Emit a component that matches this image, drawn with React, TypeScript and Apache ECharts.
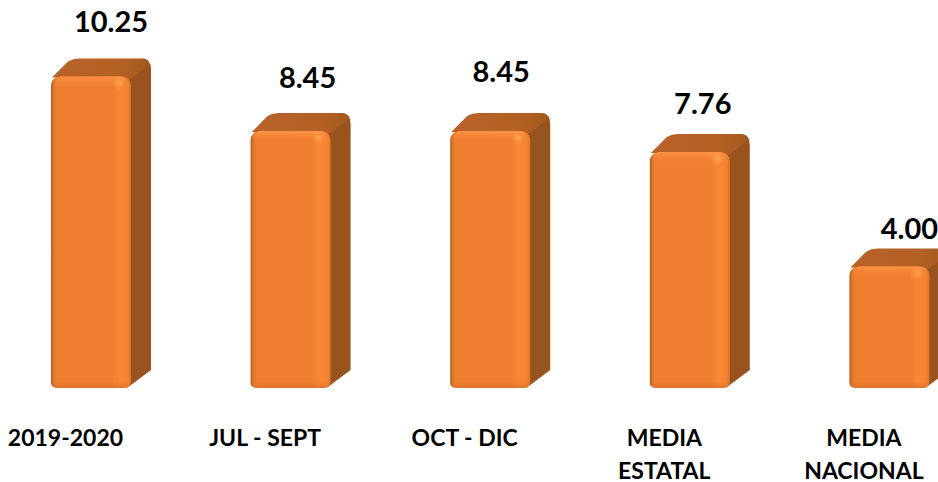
import React, { useEffect, useRef } from "react";
import * as echarts from "echarts";

const categories = ["2019-2020", "JUL - SEPT", "OCT - DIC", "MEDIA\nESTATAL", "MEDIA\nNACIONAL"];
const values = [10.25, 8.45, 8.45, 7.76, 4.0];
// Label nudges relative to each bar's centre and top (layout only)
const labelDx = [20, 17, 11, 13, 20];
const labelDy = [-56, -55, -61, -50, -39];

const FONT = "Lato, 'Open Sans', sans-serif";
const HALF = 40;
const DX = 20;
const DY = 18;

function renderItem(params: any, api: any) {
  const idx = api.value(0);
  const v = api.value(1);
  const top = api.coord([idx, v]);
  const base = api.coord([idx, 0]);
  const x0 = top[0] - HALF;
  const x1 = top[0] + HALF;
  const y0 = top[1];
  const y1 = base[1];

  const sidePath = `M${x1 - 4} ${y0 + 2}L${x1 + DX - 9} ${y0 - DY}Q${x1 + DX} ${y0 - DY} ${x1 + DX} ${y0 - DY + 11}L${x1 + DX} ${y1 - DY}L${x1 - 4} ${y1}Z`;
  const topPath = `M${x0 + 1} ${y0 + 1}L${x0 + 17} ${y0 - DY + 3}Q${x0 + 22} ${y0 - DY} ${x0 + 28} ${y0 - DY}L${x1 + DX - 9} ${y0 - DY}Q${x1 + DX - 3} ${y0 - DY} ${x1 + DX - 2} ${y0 - DY + 6}L${x1 - 1} ${y0 + 3}Z`;

  return {
    type: "group",
    children: [
      {
        type: "path",
        shape: { pathData: sidePath, x: x1 - 4, y: y0 - DY, width: DX + 4, height: y1 - y0 + DY, layout: "cover" },
        style: { fill: "#99531F" },
      },
      {
        type: "path",
        shape: { pathData: topPath, x: x0 + 1, y: y0 - DY, width: 79 + DX - 2, height: DY + 3, layout: "cover" },
        style: {
          fill: new echarts.graphic.LinearGradient(0, 0, 1, 0, [
            { offset: 0, color: "#B8622A" },
            { offset: 0.75, color: "#B36024" },
            { offset: 1, color: "#A3591F" },
          ]),
        },
      },
      {
        type: "rect",
        shape: { x: x0, y: y0, width: HALF * 2, height: y1 - y0, r: [9, 9, 6, 5] },
        style: {
          fill: new echarts.graphic.LinearGradient(0, 0, 1, 0, [
            { offset: 0, color: "#A85C24" },
            { offset: 0.025, color: "#D4722C" },
            { offset: 0.06, color: "#EE7E30" },
            { offset: 0.76, color: "#EE7E30" },
            { offset: 0.86, color: "#FA8632" },
            { offset: 0.96, color: "#F28231" },
            { offset: 1, color: "#DC762D" },
          ]),
        },
      },
      {
        type: "rect",
        shape: { x: x0 + 3, y: y0, width: HALF * 2 - 6, height: 12, r: [8, 8, 0, 0] },
        style: {
          fill: new echarts.graphic.LinearGradient(0, 0, 0, 1, [
            { offset: 0, color: "rgba(255,150,70,0.9)" },
            { offset: 1, color: "rgba(238,126,48,0)" },
          ]),
        },
      },
      {
        type: "rect",
        shape: { x: x0 + 2, y: y1 - 6, width: HALF * 2 - 4, height: 6, r: [0, 0, 5, 5] },
        style: {
          fill: new echarts.graphic.LinearGradient(0, 0, 0, 1, [
            { offset: 0, color: "rgba(225,116,44,0)" },
            { offset: 1, color: "rgba(222,116,44,1)" },
          ]),
        },
      },
      {
        type: "circle",
        shape: { cx: x1 - 12, cy: y0 + 7, r: 7 },
        style: {
          fill: new echarts.graphic.RadialGradient(0.5, 0.5, 0.5, [
            { offset: 0, color: "rgba(255,170,90,0.85)" },
            { offset: 1, color: "rgba(255,150,70,0)" },
          ]),
        },
      },
      {
        type: "text",
        style: {
          text: v.toFixed(2),
          x: top[0] + labelDx[idx],
          y: y0 + labelDy[idx],
          textAlign: "center",
          textVerticalAlign: "middle",
          font: `bold 29px ${FONT}`,
          fill: "#000",
        },
      },
    ],
  };
}

export default function App() {
  const ref = useRef<HTMLDivElement>(null);
  useEffect(() => {
    document.body.style.margin = "0";
    const chart = echarts.init(ref.current!, null, { renderer: "svg" });
    chart.setOption({
      animation: false,
      backgroundColor: "#fff",
      grid: { left: -8.8, width: 998, top: 23.2, height: 364.8, outerBoundsMode: "none" },
      xAxis: {
        type: "category",
        data: categories,
        axisLine: { show: false },
        axisTick: { show: false },
        axisLabel: {
          margin: 32,
          interval: 0,
          color: "#000",
          fontFamily: FONT,
          fontWeight: "bold",
          fontSize: 23,
          lineHeight: 33,
          padding: [0, 51, 0, 0],
          verticalAlign: "top",
        },
      },
      yAxis: { type: "value", min: 0, max: 12, show: false },
      series: [
        {
          type: "custom",
          renderItem,
          clip: false,
          data: values.map((v, i) => [i, v]),
          encode: { x: 0, y: 1 },
        },
      ],
    });
    return () => chart.dispose();
  }, []);
  return <div ref={ref} style={{ position: "absolute", left: 0, top: 0, width: 938, height: 482 }} />;
}
